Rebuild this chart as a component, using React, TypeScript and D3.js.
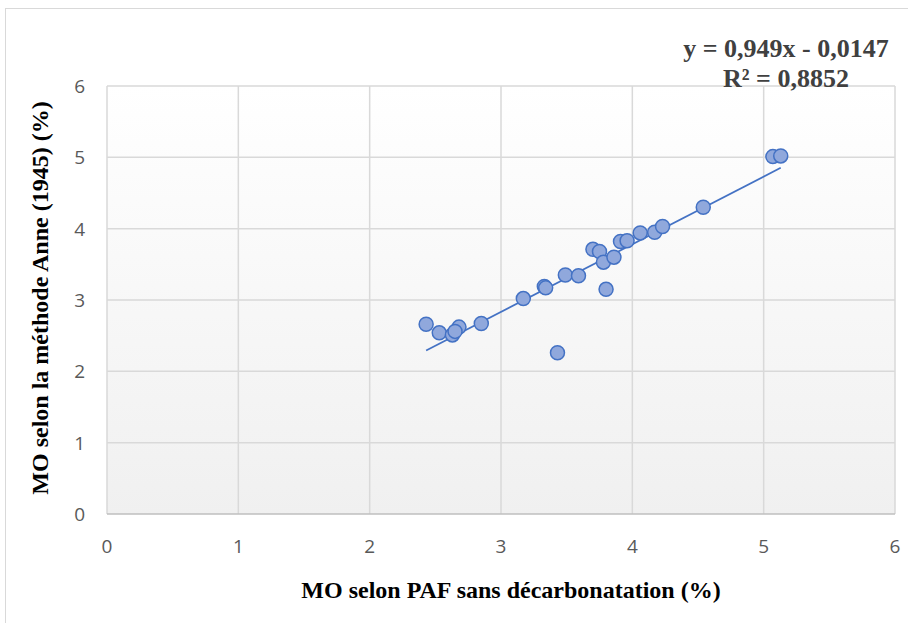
import { useEffect, useRef } from 'react';
import * as d3 from 'd3';

// MO selon PAF (x) vs MO selon Anne (y)
const pafValues = [2.43, 2.53, 2.63, 2.68, 2.65, 2.85, 3.17, 3.33, 3.34, 3.43, 3.49, 3.59, 3.70, 3.75, 3.78, 3.80, 3.86, 3.91, 3.96, 4.06, 4.17, 4.23, 4.54, 5.07, 5.13];
const anneValues = [2.66, 2.54, 2.51, 2.62, 2.56, 2.67, 3.02, 3.19, 3.17, 2.26, 3.35, 3.34, 3.71, 3.68, 3.53, 3.15, 3.60, 3.82, 3.83, 3.94, 3.95, 4.03, 4.30, 5.01, 5.02];
const ticks = [0, 1, 2, 3, 4, 5, 6];
const slope = 0.949;
const intercept = -0.0147;
const equationLines = ['y = 0,949x - 0,0147', 'R² = 0,8852'];
const xTitle = 'MO selon PAF sans décarbonatation (%)';
const yTitle = 'MO selon la méthode Anne (1945) (%)';

const W = 908;
const H = 623;
const margin = { left: 107, right: 10, top: 86, bottom: 109 };

export default function App() {
  const svgRef = useRef<SVGSVGElement>(null);

  useEffect(() => {
    if (!svgRef.current) return;
    const svg = d3.select(svgRef.current);
    svg.selectAll('*').remove();

    const x = d3.scaleLinear().domain([0, 6]).range([margin.left, W - margin.right - 3]);
    const y = d3.scaleLinear().domain([0, 6]).range([H - margin.bottom, margin.top]);

    // background gradient of plot area
    const defs = svg.append('defs');
    const grad = defs.append('linearGradient').attr('id', 'plotBg').attr('x1', 0).attr('y1', 0).attr('x2', 0).attr('y2', 1);
    grad.append('stop').attr('offset', '0%').attr('stop-color', '#ffffff');
    grad.append('stop').attr('offset', '100%').attr('stop-color', '#f0f0f0');

    // outer chart frame
    svg.append('rect')
      .attr('x', 5.5).attr('y', 8.5)
      .attr('width', W + 10).attr('height', H + 10)
      .attr('fill', 'white')
      .attr('stroke', '#d9d9d9');

    svg.append('rect')
      .attr('x', x(0)).attr('y', y(6))
      .attr('width', x(6) - x(0)).attr('height', y(0) - y(6))
      .attr('fill', 'url(#plotBg)');

    // gridlines
    svg.append('g').selectAll('line.v').data(ticks).enter().append('line')
      .attr('x1', (d) => x(d)).attr('x2', (d) => x(d))
      .attr('y1', y(0)).attr('y2', y(6))
      .attr('stroke', '#d9d9d9').attr('stroke-width', 1.5);
    svg.append('g').selectAll('line.h').data(ticks).enter().append('line')
      .attr('x1', x(0)).attr('x2', x(6))
      .attr('y1', (d) => y(d)).attr('y2', (d) => y(d))
      .attr('stroke', (d) => (d === 0 ? '#bfbfbf' : '#d9d9d9')).attr('stroke-width', 1.5);

    // tick labels
    const tickFont = '"Open Sans", "Liberation Sans", sans-serif';
    svg.append('g').selectAll('text').data(ticks).enter().append('text')
      .attr('x', (d) => x(d)).attr('y', y(0) + 39)
      .attr('text-anchor', 'middle')
      .attr('font-family', tickFont).attr('font-size', 19).attr('fill', '#595959')
      .text((d) => d);
    svg.append('g').selectAll('text').data(ticks).enter().append('text')
      .attr('x', x(0) - 22).attr('y', (d) => y(d) + 7)
      .attr('text-anchor', 'end')
      .attr('font-family', tickFont).attr('font-size', 19).attr('fill', '#595959')
      .text((d) => d);

    // trendline
    const xMin = d3.min(pafValues) as number;
    const xMax = d3.max(pafValues) as number;
    svg.append('line')
      .attr('x1', x(xMin)).attr('y1', y(slope * xMin + intercept))
      .attr('x2', x(xMax)).attr('y2', y(slope * xMax + intercept))
      .attr('stroke', '#4472c4').attr('stroke-width', 1.75);

    // points
    svg.append('g').selectAll('circle').data(pafValues).enter().append('circle')
      .attr('cx', (d) => x(d))
      .attr('cy', (_d, i) => y(anneValues[i]))
      .attr('r', 7)
      .attr('fill', '#90a8dc')
      .attr('stroke', '#4472c4').attr('stroke-width', 1.5);

    // axis titles
    const titleFont = '"Liberation Serif", "Times New Roman", serif';
    svg.append('text')
      .attr('x', 511).attr('y', 598)
      .attr('text-anchor', 'middle')
      .attr('font-family', titleFont).attr('font-weight', 700).attr('font-size', 24).attr('fill', '#000')
      .text(xTitle);
    svg.append('text')
      .attr('transform', `translate(48,298) rotate(-90)`)
      .attr('text-anchor', 'middle')
      .attr('font-family', titleFont).attr('font-weight', 700).attr('font-size', 24).attr('fill', '#000')
      .text(yTitle);

    // equation
    svg.append('g').selectAll('text').data(equationLines).enter().append('text')
      .attr('x', 786).attr('y', (_d, i) => 57 + i * 30)
      .attr('text-anchor', 'middle')
      .attr('font-family', titleFont).attr('font-weight', 700).attr('font-size', 26).attr('fill', '#404040')
      .text((d) => d);
  }, []);

  return (
    <svg ref={svgRef} width={W} height={H} style={{ position: 'absolute', left: 0, top: 0, background: 'white' }} />
  );
}
